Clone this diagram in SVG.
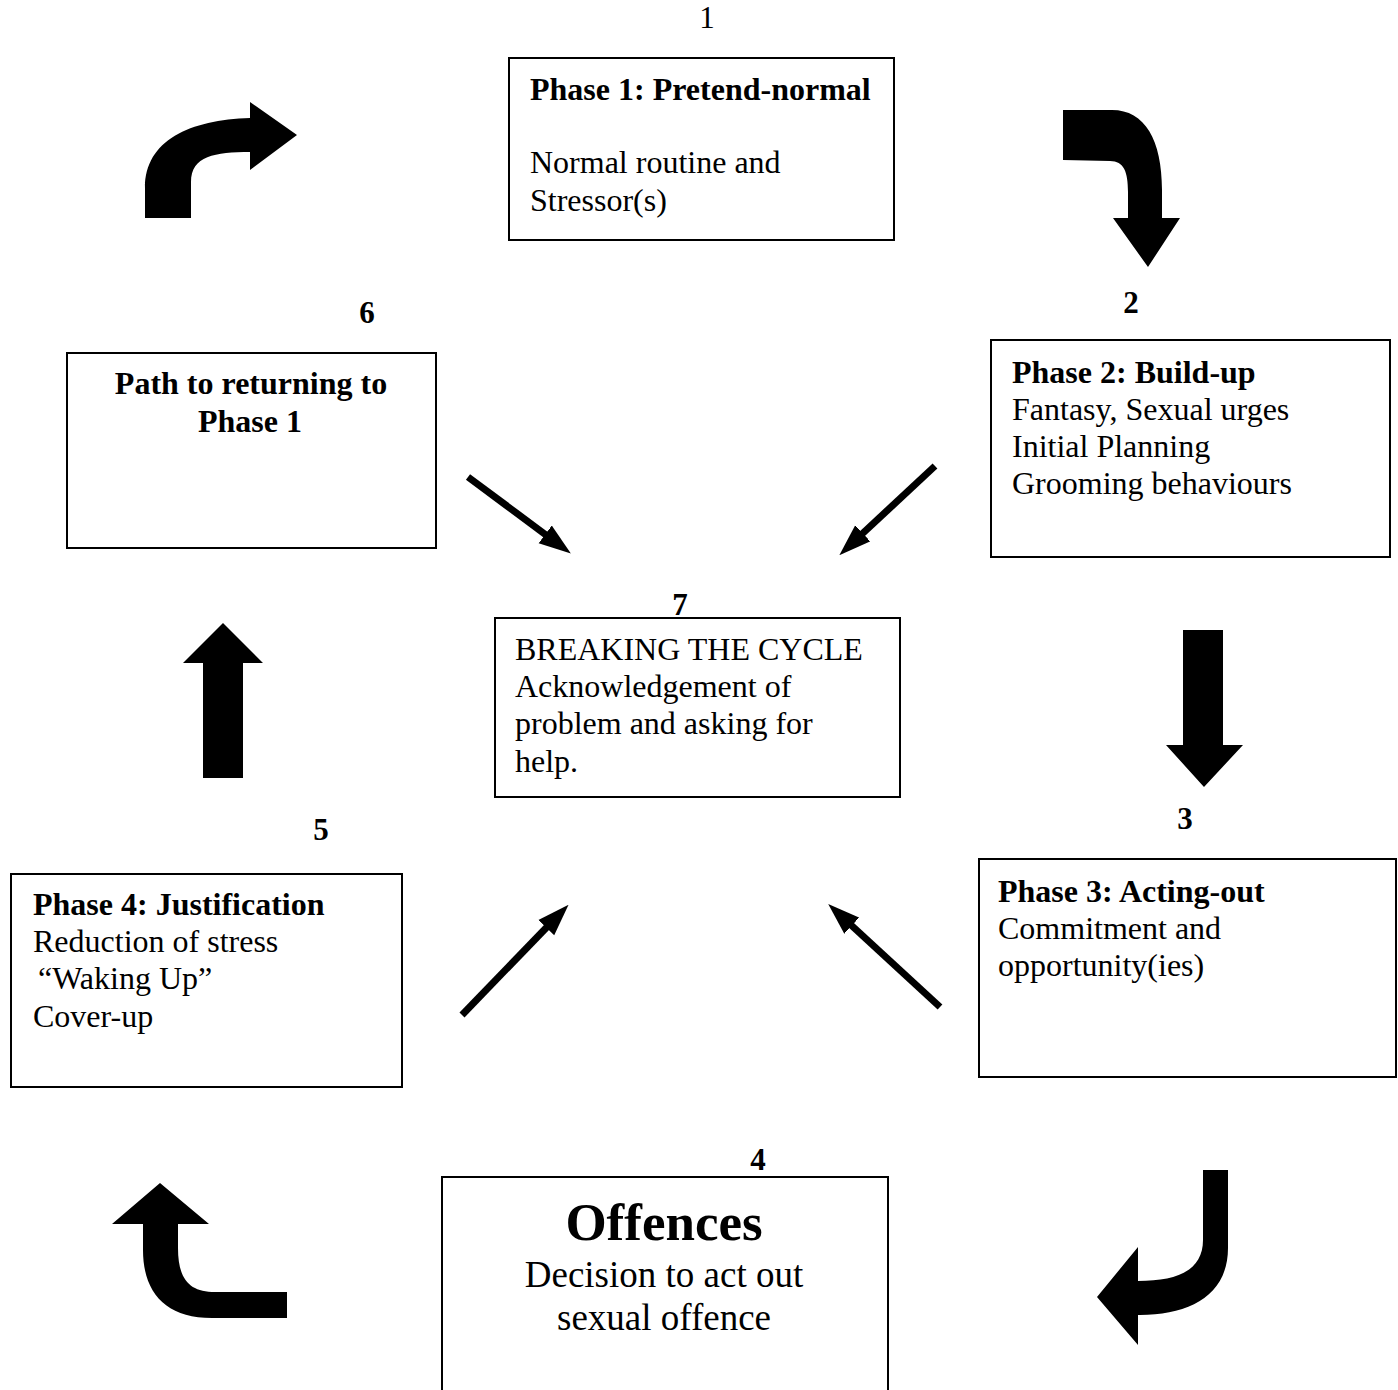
<svg xmlns="http://www.w3.org/2000/svg" width="1398" height="1390" viewBox="0 0 1398 1390">
<style>
text{font-family:"Liberation Serif","Times New Roman",serif;fill:#000;font-size:32px}
.b{font-weight:bold}
.num{font-weight:bold;text-anchor:middle;font-size:31px}
.box{fill:#fff;stroke:#000;stroke-width:2}
.big{fill:#000;stroke:none}
.thin{stroke:#000;stroke-width:7;fill:none;marker-end:url(#ah)}
</style>
<defs>
<marker id="ah" viewBox="0 -12 32 24" refX="1" refY="0" markerWidth="32" markerHeight="24" markerUnits="userSpaceOnUse" orient="auto">
<path d="M0,-11 L32,0 L0,11 Z" fill="#000"/>
</marker>
</defs>
<rect width="1398" height="1390" fill="#fff"/>

<g id="node-phase1">
<text x="707" y="28" style="text-anchor:middle;font-size:31px">1</text>
<rect class="box" x="509" y="58" width="385" height="182"/>
<text class="b" x="530" y="100">Phase 1: Pretend-normal</text>
<text x="530" y="173">Normal routine and</text>
<text x="530" y="211">Stressor(s)</text>
</g>

<g id="node-phase2">
<text class="num" x="1131" y="313">2</text>
<rect class="box" x="991" y="340" width="399" height="217"/>
<text class="b" x="1012" y="383">Phase 2: Build-up</text>
<text x="1012" y="420">Fantasy, Sexual urges</text>
<text x="1012" y="457">Initial Planning</text>
<text x="1012" y="494">Grooming behaviours</text>
</g>

<g id="node-phase3">
<text class="num" x="1185" y="829">3</text>
<rect class="box" x="979" y="859" width="417" height="218"/>
<text class="b" x="998" y="902">Phase 3: Acting-out</text>
<text x="998" y="939">Commitment and</text>
<text x="998" y="976">opportunity(ies)</text>
</g>

<g id="node-offences">
<text class="num" x="758" y="1170">4</text>
<rect class="box" x="442" y="1177" width="446" height="230"/>
<text class="b" x="664" y="1240" style="text-anchor:middle;font-size:53px">Offences</text>
<text x="664" y="1287" style="text-anchor:middle;font-size:37px">Decision to act out</text>
<text x="664" y="1330" style="text-anchor:middle;font-size:37px">sexual offence</text>
</g>

<g id="node-phase4">
<text class="num" x="321" y="840">5</text>
<rect class="box" x="11" y="874" width="391" height="213"/>
<text class="b" x="33" y="915">Phase 4: Justification</text>
<text x="33" y="952">Reduction of stress</text>
<text x="38" y="989">“Waking Up”</text>
<text x="33" y="1027">Cover-up</text>
</g>

<g id="node-path">
<text class="num" x="367" y="323">6</text>
<rect class="box" x="67" y="353" width="369" height="195"/>
<text class="b" x="251" y="394" style="text-anchor:middle">Path to returning to</text>
<text class="b" x="250" y="432" style="text-anchor:middle">Phase 1</text>
</g>

<g id="node-breaking">
<text class="num" x="680" y="615">7</text>
<rect class="box" x="495" y="618" width="405" height="179"/>
<text x="515" y="660">BREAKING THE CYCLE</text>
<text x="515" y="697">Acknowledgement of</text>
<text x="515" y="734">problem and asking for</text>
<text x="515" y="772">help.</text>
</g>

<g id="connectors">
<path class="big" d="M145,218 L145,188 C145,140 190,120 250,118 L250,102 L297,135 L250,170 L250,152 C215,152 191,156 191,182 L191,218 Z"/>
<path class="big" d="M1063,110 L1112,110 C1145,110 1162,140 1162,190 L1162,218 L1180,218 L1148,267 L1113,218 L1128,218 L1128,192 C1128,172 1124,161 1110,161 L1063,160 Z"/>
<path class="big" d="M1183,630 L1223,630 L1223,745 L1243,745 L1204,787 L1166,745 L1183,745 Z"/>
<path class="big" d="M1203,1170 L1228,1170 L1228,1248 C1228,1295 1190,1315 1140,1315 L1138,1315 L1138,1345 L1097,1297 L1138,1247 L1138,1281 C1178,1281 1203,1270 1203,1240 Z"/>
<path class="big" d="M143,1224 L112,1224 L160,1183 L209,1224 L178,1224 L178,1248 C178,1280 190,1292 215,1292 L287,1292 L287,1318 L212,1318 C165,1318 143,1292 143,1250 Z"/>
<path class="big" d="M203,778 L243,778 L243,663 L263,663 L223,623 L183,663 L203,663 Z"/>
<line class="thin" x1="468" y1="477" x2="546" y2="535"/>
<line class="thin" x1="935" y1="466" x2="862" y2="534"/>
<line class="thin" x1="462" y1="1015" x2="547" y2="927"/>
<line class="thin" x1="940" y1="1007" x2="851" y2="925"/>
</g>
</svg>
